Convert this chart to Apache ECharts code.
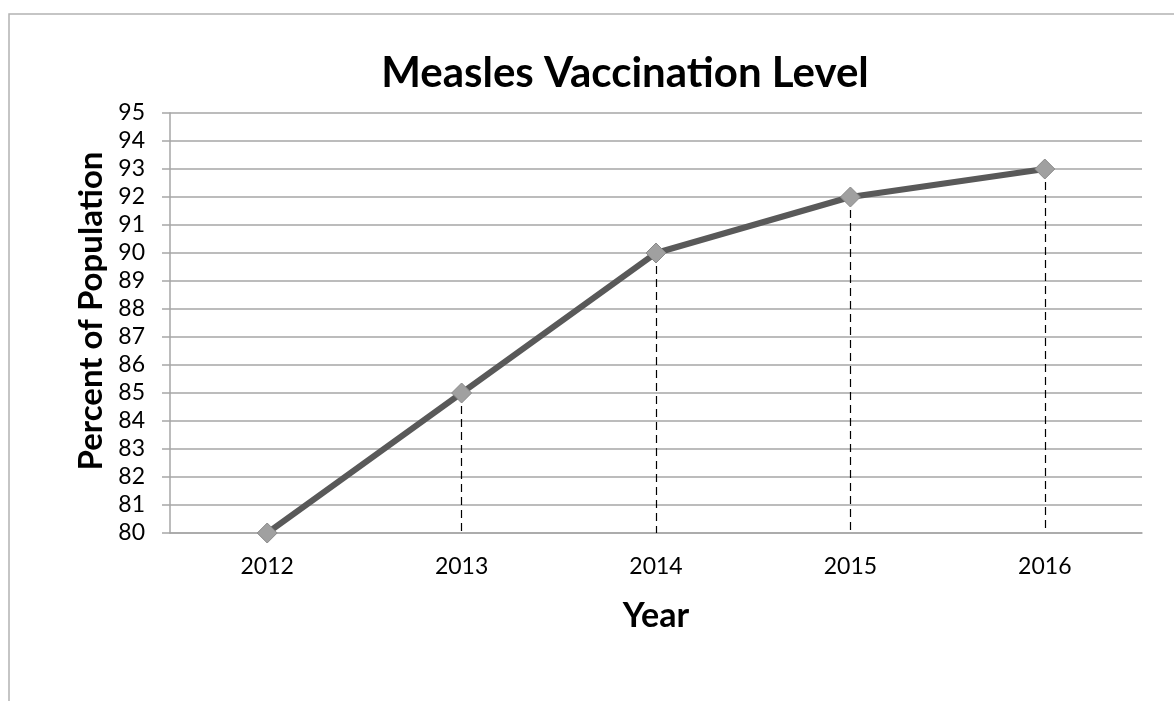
<!DOCTYPE html>
<html><head><meta charset="utf-8">
<script src="https://cdn.jsdelivr.net/npm/echarts@6/dist/echarts.min.js"></script>
<style>html,body{margin:0;padding:0;background:#fff}#c{width:1174px;height:701px}</style>
</head><body><div id="c"></div>
<script>
const years = ['2012','2013','2014','2015','2016'];
const values = [80, 85, 90, 92, 93];
const yMin = 80, yMax = 95, yStep = 1;

const FONT = 'Lato, "Open Sans", sans-serif';
const chart = echarts.init(document.getElementById('c'));
chart.setOption({
  animation: false,
  backgroundColor: '#fff',
  title: {
    text: 'Measles Vaccination Level',
    left: 620, top: 47, textAlign: 'center',
    textStyle: {fontFamily: FONT, fontWeight: 'bold', fontSize: 42, color: '#000'}
  },
  graphic: [{
    type: 'rect', shape: {x: 9, y: 14, width: 1300, height: 800},
    style: {fill: 'none', stroke: '#b3b3b3', lineWidth: 1.5}, silent: true
  }],
  grid: {left: 170, top: 113, right: 32, bottom: 168},
  xAxis: {
    type: 'category', data: years, boundaryGap: true,
    axisLine: {lineStyle: {color: '#a6a6a6', width: 1.5}},
    axisTick: {show: false},
    axisLabel: {fontFamily: FONT, fontSize: 23, color: '#000', margin: 22},
    name: 'Year', nameLocation: 'middle', nameGap: 66,
    nameTextStyle: {fontFamily: FONT, fontSize: 34, fontWeight: 'bold', color: '#000'}
  },
  yAxis: {
    type: 'value', min: yMin, max: yMax, interval: yStep,
    axisLine: {show: true, lineStyle: {color: '#a6a6a6', width: 1.5}},
    axisTick: {show: true, length: 8, lineStyle: {color: '#a6a6a6', width: 1.5}},
    splitLine: {lineStyle: {color: '#a6a6a6', width: 1.5}},
    axisLabel: {fontFamily: FONT, fontSize: 23, color: '#000', margin: 25},
    name: 'Percent of Population', nameLocation: 'middle', nameGap: 58,
    nameTextStyle: {fontFamily: FONT, fontSize: 33, fontWeight: 'bold', color: '#000', padding: [0, 0, 0, 24]}
  },
  series: [{
    type: 'line', data: values,
    lineStyle: {color: '#595959', width: 6},
    symbol: 'diamond', symbolSize: 20,
    itemStyle: {color: '#a0a0a0', borderColor: '#8a8a8a', borderWidth: 1},
    z: 3,
    markLine: {
      silent: true, symbol: ['none', 'none'], label: {show: false},
      lineStyle: {color: '#000', type: [8, 5], width: 1.2},
      z: 2,
      data: years.map((y, i) => [{coord: [y, values[i]]}, {coord: [y, yMin]}])
    }
  }]
});
</script></body></html>
